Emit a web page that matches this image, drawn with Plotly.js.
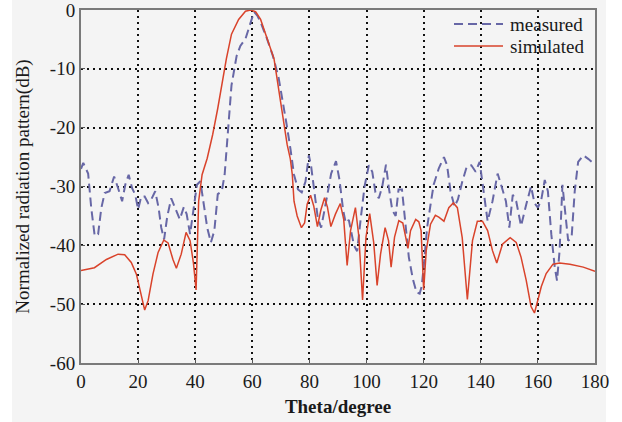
<!DOCTYPE html>
<html>
<head>
<meta charset="utf-8">
<script src="https://cdn.plot.ly/plotly-3.0.1.min.js"></script>
<style>
html,body{margin:0;padding:0;background:#ffffff;}
#chart{position:absolute;left:0;top:0;width:622px;height:422px;
  background:linear-gradient(to right,#ffffff 0,#ffffff 12px,#f4f4f4 12px,#f4f4f4 606px,#ffffff 606px,#ffffff 622px);}
</style>
</head>
<body>
<div id="chart"></div>
<script>
// Simulated pattern (red solid)
const simTheta = [0,4.7,8.9,13,15.3,17.6,19.4,21.1,22.3,23.5,25.2,27,29,30.5,32.2,33.4,35.1,36.8,38.2,39.4,40.3,41.2,42.4,44.2,46.1,47.9,49.7,50.9,52.7,55.2,57.6,59.4,61.2,62.9,65.2,67.6,69.9,72.2,73.3,74,74.6,75.7,77.2,78.3,79.2,80.4,81.5,82.8,84,85.3,86.3,87.5,89.1,90.8,92,93.2,94.4,96.1,97.3,98.6,99.8,101.1,102.5,103.7,104.9,106.5,107.7,108.6,109.8,111.3,112.7,113.8,114.5,115.4,117.2,118.3,119.1,120,120.9,122.4,124.1,125.3,127.1,128.8,130.4,131.8,133.5,135.3,137.1,138.8,140.6,142.4,144.1,145.6,147.6,150.3,152.4,154.1,155.9,157.6,158.8,160,161.2,162.9,165.3,167.6,171.2,175.9,180];
const simDB = [-44.3,-43.8,-42.4,-41.5,-41.6,-42.9,-44.9,-48.8,-51,-49.4,-44.9,-41.2,-39.1,-39.6,-42.4,-43.9,-41.5,-37.8,-39.2,-43.1,-47.6,-32.5,-28,-25.2,-21.2,-16.7,-11.7,-8.3,-4.1,-1.6,-0.2,0,-0.3,-1.6,-4.9,-8.3,-15.6,-22.9,-25.3,-28,-32.5,-35,-37,-36.2,-33,-31.5,-33.3,-36.8,-34,-31.9,-33.5,-36.8,-34.7,-32.9,-35.6,-43.4,-37.5,-33.6,-38.5,-49.3,-38.6,-34.6,-39.5,-46.8,-41.5,-37,-39.2,-43.7,-38.6,-35.8,-36.2,-38.5,-40.5,-37.5,-35.6,-36,-37.5,-47.6,-40.9,-36.4,-34.9,-35.2,-35.9,-33.6,-32.8,-33.6,-38.7,-49.2,-39.2,-35.9,-35.9,-37.5,-40.9,-43,-39.8,-38.7,-39.5,-42,-45.9,-50.4,-51.5,-49.3,-47,-44.8,-43.2,-43,-43.2,-43.7,-44.4];

// Measured pattern (blue dashed)
const measTheta = [0,0.8,2.5,3.6,4.8,6,7.1,8.3,10,11.6,13,14.4,15.5,16.7,17.9,19,20,21.1,22.3,23.5,24.6,26,27.2,28.1,29.1,30.2,31.6,33,34.6,36,37,38.2,39.4,40.6,41.8,43,44.2,45.5,46.7,47.9,49.3,50.3,51.5,52.7,54.5,55.8,57.6,59.4,60.6,61.8,63,65,67.2,69.2,70.5,72.2,73.4,74.6,76,77.3,78.6,79.8,80.6,81.7,82.9,84.1,85.1,86.2,87.6,89.3,90.5,91.8,92.7,93.8,95.6,96.7,98,99.3,100.8,102,103.1,104.3,105.5,106.8,107.8,109,110.2,111.2,112.4,113.6,114.8,116.2,117.5,118.6,119.3,120,121.2,122.4,123.5,125.3,127.1,128.2,129.4,130.8,132,133.5,135.1,136.7,138.2,139.6,140.9,142.4,144.1,145.9,147.6,148.8,150,151.2,152.4,154.1,155.9,157.6,158.8,160,161.2,162.4,163.5,164.7,165.9,166.7,167.6,168.6,169.4,170.6,171.8,172.9,174.1,175.9,177.6,178.8];
const measDB = [-27,-26,-27.8,-33.7,-38.4,-38.1,-33.7,-31.1,-30.8,-28.3,-30.3,-32.5,-29.7,-28,-30.3,-31.4,-33.9,-31.7,-31.7,-32.8,-32.2,-30.8,-33.7,-37,-39,-35.1,-32,-33.7,-35.6,-33.5,-34.7,-38.1,-33.6,-29.7,-29.1,-33,-37,-39.5,-37.5,-31.3,-30.8,-28,-20.1,-12.8,-7.8,-6.1,-4.9,-2.1,-0.3,-1,-2.2,-4.7,-7.8,-11.5,-15,-20,-23.8,-28,-30.5,-31,-29.2,-24.7,-26.6,-31,-35.3,-37,-34.7,-31.6,-27.8,-25.7,-28.8,-34,-36.2,-35.7,-40,-41,-35.3,-30,-26.4,-27.5,-31,-32,-30,-26.3,-30.2,-34,-35,-30.5,-30.5,-36,-42,-45.7,-48,-48.2,-47,-43.7,-37,-33.1,-29.7,-26.9,-25,-26.4,-30.8,-33.4,-32.2,-29.2,-26.6,-26.4,-27.5,-25.8,-30.8,-35.9,-32.5,-27.8,-30.5,-32.5,-37,-31.4,-32.5,-36.7,-33.1,-30,-32.8,-33.6,-32.2,-28.9,-30.8,-38.1,-43.7,-46,-40.9,-29.7,-33.6,-39.2,-38.7,-30.8,-25.8,-24.7,-25.3,-25.8];

const xTickVals = [0,20,40,60,80,100,120,140,160,180];
const xTickText = ['0','20','40','60','80','100','120','140','160','180'];
const yTickVals = [0,-10,-20,-30,-40,-50,-60];
const yTickText = ['0','-10','-20','-30','-40','-50','-60'];
const seriesNames = ['measured', 'simulated'];
const seriesColors = ['#6767a6', '#d9432b'];
const seriesDash = ['9px,5px', 'solid'];
const seriesWidth = [2, 1.5];

const serif = 'Liberation Serif';

const traces = [
  {x: measTheta, y: measDB, name: seriesNames[0], type: 'scatter', mode: 'lines',
   line: {color: seriesColors[0], width: seriesWidth[0], dash: seriesDash[0]}},
  {x: simTheta, y: simDB, name: seriesNames[1], type: 'scatter', mode: 'lines',
   line: {color: seriesColors[1], width: seriesWidth[1], dash: seriesDash[1]}}
];

// legend drawn inside the plot (top-right)
const legY = [0.960, 0.898];
const legendShapes = seriesNames.map((n, i) => ({
  type: 'line', xref: 'paper', yref: 'paper', x0: 0.7257, x1: 0.821, y0: legY[i], y1: legY[i],
  line: {color: seriesColors[i], width: seriesWidth[i], dash: seriesDash[i]}
}));
const legendNotes = seriesNames.map((n, i) => ({
  text: n, xref: 'paper', yref: 'paper', x: 0.8307, y: legY[i], xanchor: 'left', yanchor: 'middle',
  showarrow: false, font: {family: serif, size: 19, color: '#1a1a1a'}
}));

const axisCommon = {
  showline: true, mirror: true, linecolor: '#7a7a7a', linewidth: 2,
  showgrid: true, gridcolor: '#111111', gridwidth: 2, griddash: '2px,4px',
  zeroline: false, ticks: 'inside', ticklen: 4, tickcolor: '#555555',
  ticklabeloverflow: 'allow',
  tickfont: {family: serif, size: 19, color: '#1a1a1a'}
};

const layout = {
  width: 622, height: 422,
  margin: {l: 81, r: 27, t: 10, b: 59},
  paper_bgcolor: 'rgba(0,0,0,0)', plot_bgcolor: '#f4f4f4',
  font: {family: serif, size: 19, color: '#1a1a1a'},
  showlegend: false,
  shapes: legendShapes,
  annotations: legendNotes,
  xaxis: Object.assign({}, axisCommon, {range: [0, 180], tickvals: xTickVals, ticktext: xTickText,
    title: {text: '<b>Theta/degree</b>', font: {family: serif, size: 19, color: '#1a1a1a'}, standoff: 9}}),
  yaxis: Object.assign({}, axisCommon, {range: [-60, 0], tickvals: yTickVals, ticktext: yTickText,
    title: {text: 'Normalized radiation pattern(dB)', font: {family: serif, size: 19, color: '#1a1a1a'}, standoff: 15}})
};

Plotly.newPlot('chart', traces, layout, {displayModeBar: false, staticPlot: true});
</script>
</body>
</html>
